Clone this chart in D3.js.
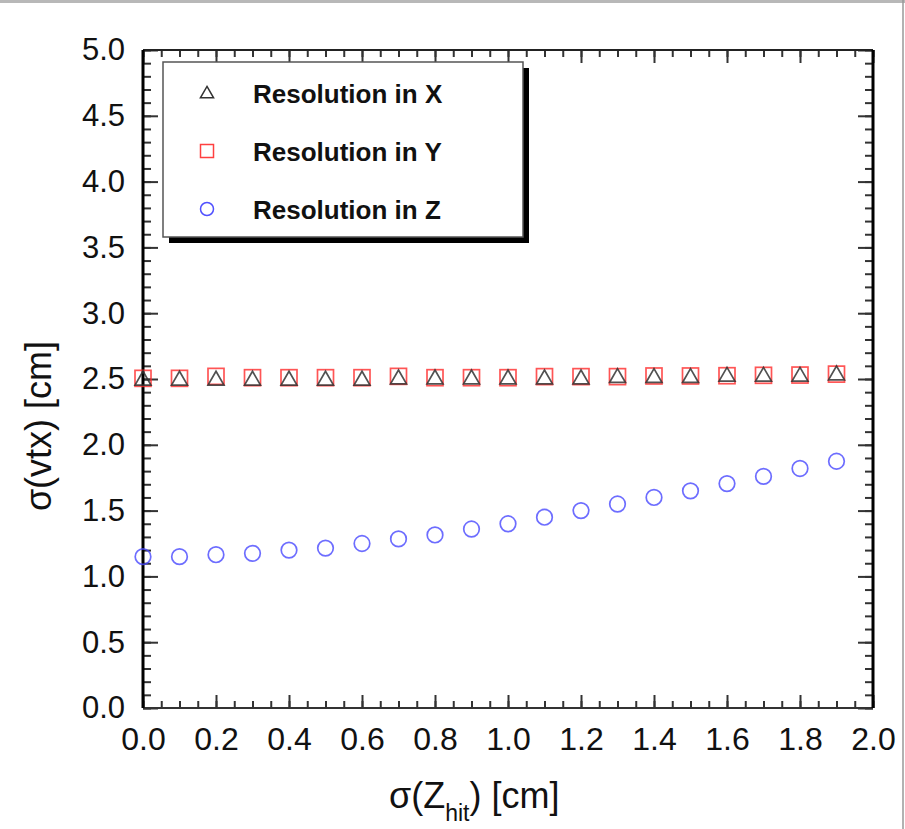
<!DOCTYPE html>
<html>
<head>
<meta charset="utf-8">
<script src="https://cdn.jsdelivr.net/npm/d3@7"></script>
<style>
  html, body { margin: 0; padding: 0; background: #fff; }
  svg { display: block; font-family: "Liberation Sans", Arial, sans-serif; }
</style>
</head>
<body>
<svg id="chart" width="905" height="829"></svg>
<script>
'use strict';

// sigma(Z_hit) values, cm
const zHit = [0.0, 0.1, 0.2, 0.3, 0.4, 0.5, 0.6, 0.7, 0.8, 0.9,
              1.0, 1.1, 1.2, 1.3, 1.4, 1.5, 1.6, 1.7, 1.8, 1.9];
// vertex resolution per coordinate, cm
const resX = [2.50, 2.50, 2.50, 2.50, 2.50, 2.50, 2.50, 2.51, 2.51, 2.51,
              2.51, 2.51, 2.51, 2.52, 2.52, 2.52, 2.53, 2.53, 2.53, 2.54];
const resY = [2.505, 2.505, 2.52, 2.51, 2.51, 2.51, 2.51, 2.52, 2.51, 2.51,
              2.51, 2.518, 2.518, 2.518, 2.523, 2.523, 2.525, 2.528, 2.53, 2.537];
const resZ = [1.15, 1.15, 1.165, 1.175, 1.20, 1.215, 1.25, 1.285, 1.315, 1.36,
              1.40, 1.45, 1.50, 1.55, 1.60, 1.65, 1.705, 1.76, 1.82, 1.875];
const xTicks = [0.0, 0.2, 0.4, 0.6, 0.8, 1.0, 1.2, 1.4, 1.6, 1.8, 2.0];
const yTicks = [0.0, 0.5, 1.0, 1.5, 2.0, 2.5, 3.0, 3.5, 4.0, 4.5, 5.0];
const legendLabels = ['Resolution in X', 'Resolution in Y', 'Resolution in Z'];

const svg = d3.select('#chart');
const width = 905;
const height = 829;
const marg = { left: 143, top: 50, right: 32, bottom: 121 };
const plotW = width - marg.left - marg.right;
const plotH = height - marg.top - marg.bottom;

// screenshot edges
svg.append('rect').attr('x', 0).attr('y', 0).attr('width', width).attr('height', 3).style('fill', '#b8b8b8');
svg.append('line').attr('x1', 903).attr('x2', 903).attr('y1', 0).attr('y2', height)
  .style('stroke', '#999').style('stroke-width', 1.5);

const xScale = d3.scaleLinear().domain([0, 2.0]).range([0, plotW]);
const yScale = d3.scaleLinear().domain([0, 5.0]).range([plotH, 0]);

const g = svg.append('g').attr('transform', `translate(${marg.left},${marg.top})`);

// minor ticks every 0.05 on x, 0.1 on y
const xMinor = d3.range(0, 41).map(i => i * 0.05);
const yMinor = d3.range(0, 51).map(i => i * 0.1);
const tickCol = '#333';

const noDomain = s => s.select('.domain').remove();

// bottom
g.append('g').attr('transform', `translate(0,${plotH})`)
  .call(d3.axisTop(xScale).tickValues(xMinor).tickSize(7).tickFormat('')).call(noDomain);
g.append('g').attr('transform', `translate(0,${plotH})`)
  .call(d3.axisTop(xScale).tickValues(xTicks).tickSize(13).tickFormat('')).call(noDomain);
// top
g.append('g')
  .call(d3.axisBottom(xScale).tickValues(xMinor).tickSize(7).tickFormat('')).call(noDomain);
g.append('g')
  .call(d3.axisBottom(xScale).tickValues(xTicks).tickSize(13).tickFormat('')).call(noDomain);
// left
g.append('g')
  .call(d3.axisRight(yScale).tickValues(yMinor).tickSize(8).tickFormat('')).call(noDomain);
g.append('g')
  .call(d3.axisRight(yScale).tickValues(yTicks).tickSize(15).tickFormat('')).call(noDomain);
// right
g.append('g').attr('transform', `translate(${plotW},0)`)
  .call(d3.axisLeft(yScale).tickValues(yMinor).tickSize(8).tickFormat('')).call(noDomain);
g.append('g').attr('transform', `translate(${plotW},0)`)
  .call(d3.axisLeft(yScale).tickValues(yTicks).tickSize(15).tickFormat('')).call(noDomain);

g.selectAll('.tick line').style('stroke', tickCol).style('stroke-width', 2);

// tick labels
g.append('g').attr('transform', `translate(0,${plotH})`)
  .call(d3.axisBottom(xScale).tickValues(xTicks).tickSize(0).tickFormat(d3.format('.1f')))
  .call(noDomain)
  .selectAll('text').style('font-size', '32px').style('fill', '#111')
  .attr('dy', '0.71em').attr('y', 19);
g.append('g')
  .call(d3.axisLeft(yScale).tickValues(yTicks).tickSize(0).tickPadding(18).tickFormat(d3.format('.1f')))
  .call(noDomain)
  .selectAll('text').style('font-size', '31px').style('fill', '#111');

// frame
g.append('line').attr('x1', 0).attr('x2', plotW).attr('y1', 0).attr('y2', 0).style('stroke', '#222').style('stroke-width', 2);
g.append('line').attr('x1', 0).attr('x2', plotW).attr('y1', plotH).attr('y2', plotH).style('stroke', '#333').style('stroke-width', 2);
g.append('line').attr('x1', 0).attr('x2', 0).attr('y1', 0).attr('y2', plotH).style('stroke', '#000').style('stroke-width', 3);
g.append('line').attr('x1', plotW).attr('x2', plotW).attr('y1', 0).attr('y2', plotH).style('stroke', '#000').style('stroke-width', 3);

// markers
const tri = d3.symbol().type(d3.symbolTriangle).size(110);
const xData = zHit.map((x, i) => ({ x, y: resX[i] }));
const yData = zHit.map((x, i) => ({ x, y: resY[i] }));
const zData = zHit.map((x, i) => ({ x, y: resZ[i] }));

g.selectAll('rect.sq').data(yData).join('rect').attr('class', 'sq')
  .attr('x', d => xScale(d.x) - 8).attr('y', d => yScale(d.y) - 8)
  .attr('width', 16).attr('height', 16)
  .style('fill', 'none').style('stroke', '#ff2a2a').style('stroke-opacity', 0.8).style('stroke-width', 1.7);

g.selectAll('path.tri').data(xData).join('path').attr('class', 'tri')
  .attr('transform', d => `translate(${xScale(d.x)},${yScale(d.y) + 1.5})`)
  .attr('d', tri)
  .style('fill', 'none').style('stroke', '#333').style('stroke-opacity', 0.85).style('stroke-width', 1.7);

g.selectAll('circle.cz').data(zData).join('circle').attr('class', 'cz')
  .attr('cx', d => xScale(d.x)).attr('cy', d => yScale(d.y)).attr('r', 7.8)
  .style('fill', 'none').style('stroke', '#4848ff').style('stroke-opacity', 0.8).style('stroke-width', 1.7);

// legend
const lg = svg.append('g').attr('transform', 'translate(163,62)');
const lw = 360, lh = 175;
lg.append('rect').attr('x', 6).attr('y', 6).attr('width', lw).attr('height', lh).style('fill', '#000');
lg.append('rect').attr('x', 0).attr('y', 0).attr('width', lw).attr('height', lh)
  .style('fill', '#fff').style('stroke', '#555').style('stroke-width', 1.5);

const rowY = [31, 89, 147];
lg.append('path').attr('transform', `translate(44,${rowY[0] + 1})`)
  .attr('d', d3.symbol().type(d3.symbolTriangle).size(75))
  .style('fill', 'none').style('stroke', '#333').style('stroke-width', 1.5);
lg.append('rect').attr('x', 44 - 6.5).attr('y', rowY[1] - 6.5).attr('width', 13).attr('height', 13)
  .style('fill', 'none').style('stroke', '#ff4040').style('stroke-width', 1.5);
lg.append('circle').attr('cx', 44).attr('cy', rowY[2]).attr('r', 6.5)
  .style('fill', 'none').style('stroke', '#5050ff').style('stroke-width', 1.5);

lg.selectAll('text.lt').data(legendLabels).join('text').attr('class', 'lt')
  .attr('x', 90).attr('y', (d, i) => rowY[i] + 10)
  .text(d => d)
  .style('font-size', '26px').style('font-weight', 'bold').style('fill', '#111');

// axis titles
svg.append('text')
  .attr('transform', 'translate(51,426) rotate(-90)')
  .attr('text-anchor', 'middle')
  .style('font-size', '36px').style('fill', '#111')
  .text('σ(vtx) [cm]');

const xt = svg.append('text')
  .attr('x', 389).attr('y', 808)
  .style('font-size', '36px').style('fill', '#111');
xt.append('tspan').text('σ(Z');
xt.append('tspan').attr('dy', 13).style('font-size', '23px').text('hit');
xt.append('tspan').attr('dy', -13).text(') [cm]');
</script>
</body>
</html>
